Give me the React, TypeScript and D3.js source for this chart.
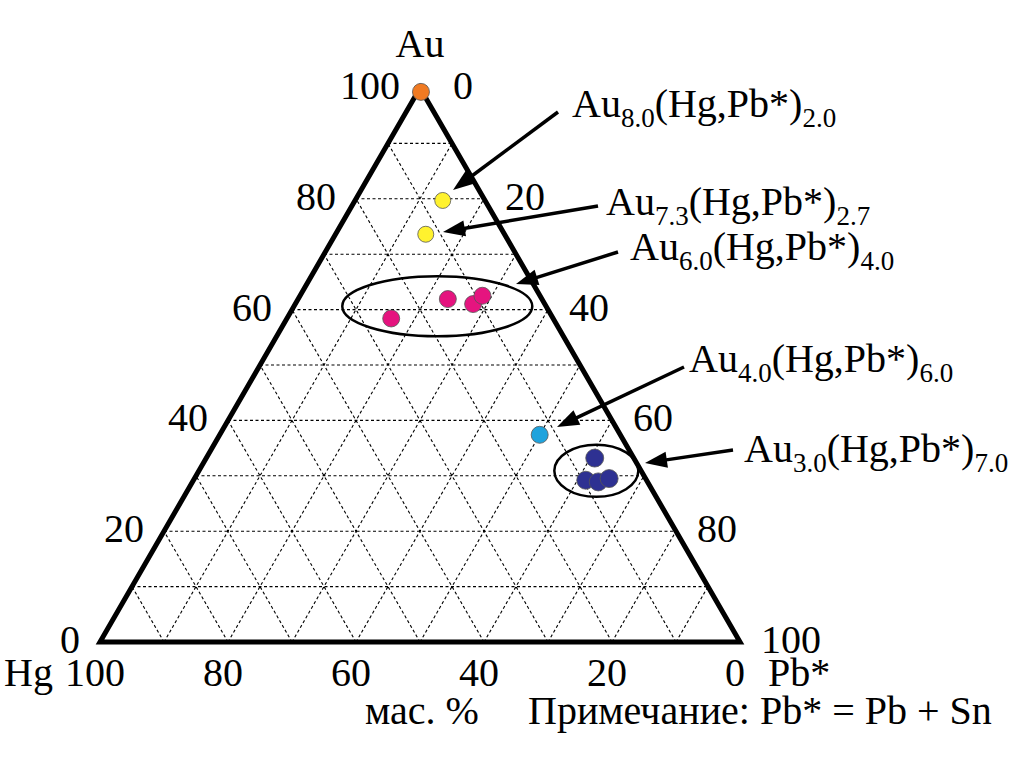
import * as d3 from "d3";

// compositions, mass % (Au, Hg, Pb*)
const orangePts = [[99.3, 0.2, 0.5]];
const yellowPts = [
  [79.7, 6.6, 13.7],
  [73.6, 12.3, 14.1],
];
const pinkPts = [
  [58.4, 25.3, 16.3],
  [61.9, 14.7, 23.4],
  [61.0, 11.2, 27.8],
  [62.5, 9.0, 28.5],
];
const cyanPts = [[37.4, 12.6, 50.0]];
const navyPts = [
  [33.2, 6.1, 60.7],
  [29.2, 9.5, 61.3],
  [28.9, 7.7, 63.4],
  [29.5, 5.7, 64.8],
];

const ticks = [0, 20, 40, 60, 80, 100];
const auSubs = ["8.0", "7.3", "6.0", "4.0", "3.0"];
const hgPbSubs = ["2.0", "2.7", "4.0", "6.0", "7.0"];

// annotation layout (label anchor, arrow start, arrow tip)
const notes = [
  { lx: 572, ly: 117, x1: 558, y1: 112, x2: 453, y2: 190 },
  { lx: 606, ly: 215, x1: 598, y1: 206, x2: 443, y2: 232 },
  { lx: 630, ly: 260, x1: 618, y1: 252, x2: 516, y2: 284 },
  { lx: 689, ly: 372, x1: 684, y1: 367, x2: 557, y2: 427 },
  { lx: 744, ly: 462, x1: 733, y1: 450, x2: 645, y2: 463 },
];

const W = 1010;
const H = 760;
const FONT = "'Liberation Serif', 'Times New Roman', serif";

const xs = d3.scaleLinear().domain([0, 100]).range([100, 740]);
const ys = d3.scaleLinear().domain([0, 100]).range([642, 88]);

// ternary -> pixel (Au top, Hg bottom-left, Pb* bottom-right)
const px = (au: number, pb: number): [number, number] => [xs(pb + au / 2), ys(au)];

const groups = [
  { pts: orangePts, fill: "#f07a22", r: 8.5 },
  { pts: yellowPts, fill: "#fff22e", r: 8 },
  { pts: pinkPts, fill: "#e5147f", r: 8.5 },
  { pts: cyanPts, fill: "#1fa3dd", r: 8.5 },
  { pts: navyPts, fill: "#2e3192", r: 9 },
];

const ellipses = [
  { au: 60.6, pb: 22.4, rx: 95, ry: 30 },
  { au: 30.9, pb: 62.1, rx: 42, ry: 26 },
];

export default function App() {
  const grid: string[] = [];
  for (let v = 10; v < 100; v += 10) {
    const a1 = px(v, 0), a2 = px(v, 100 - v); // constant Au
    const b1 = px(0, v), b2 = px(100 - v, v); // constant Pb*
    const c1 = px(0, 100 - v), c2 = px(100 - v, 0); // constant Hg
    grid.push(`M${a1}L${a2}`, `M${b1}L${b2}`, `M${c1}L${c2}`);
  }
  const A = px(100, 0), L = px(0, 0), R = px(0, 100);
  const tri = d3.line()([A, L, R]) + "Z";

  const arrow = (n: typeof notes[0]) => {
    const ang = Math.atan2(n.y2 - n.y1, n.x2 - n.x1);
    const len = 22, hw = 8;
    const bx = n.x2 - len * Math.cos(ang), by = n.y2 - len * Math.sin(ang);
    const nx = -Math.sin(ang) * hw, ny = Math.cos(ang) * hw;
    return {
      line: `M${n.x1},${n.y1}L${bx + 4 * Math.cos(ang)},${by + 4 * Math.sin(ang)}`,
      head: `M${n.x2},${n.y2}L${bx + nx},${by + ny}L${bx - nx},${by - ny}Z`,
    };
  };

  return (
    <svg width={W} height={H} style={{ position: "absolute", left: 0, top: 0, background: "#fff" }} fontFamily={FONT}>
      <path d={grid.join("")} stroke="#000" strokeWidth={1.1} strokeDasharray="3,2.5" fill="none" />
      <path d={tri} stroke="#000" strokeWidth={5} fill="none" strokeLinejoin="miter" />

      {ellipses.map((e, i) => {
        const [cx, cy] = px(e.au, e.pb);
        return <ellipse key={i} cx={cx} cy={cy} rx={e.rx} ry={e.ry} fill="none" stroke="#000" strokeWidth={2.5} />;
      })}

      {groups.map((g, gi) =>
        g.pts.map((p, i) => {
          const [cx, cy] = px(p[0], p[2]);
          return <circle key={`${gi}-${i}`} cx={cx} cy={cy} r={g.r} fill={g.fill} stroke="#555" strokeWidth={0.8} />;
        })
      )}

      {/* left axis: Au */}
      {ticks.map((t) => {
        const [x, y] = px(t, 0);
        return (
          <text key={`l${t}`} x={x - 20} y={y + 11} fontSize={40} textAnchor="end">{t}</text>
        );
      })}
      {/* right axis: Pb* */}
      {ticks.map((t) => {
        const [x, y] = px(100 - t, t);
        return (
          <text key={`r${t}`} x={x + (t === 0 ? 33 : 21)} y={y + 11} fontSize={40}>{t}</text>
        );
      })}
      {/* bottom axis: Hg */}
      {ticks.map((t) => {
        const [x] = px(0, 100 - t);
        return (
          <text key={`b${t}`} x={x - 5} y={686} fontSize={40} textAnchor="middle">{t}</text>
        );
      })}
      <text x={420} y={57} fontSize={40} textAnchor="middle">Au</text>
      <text x={4} y={686} fontSize={40}>Hg</text>
      <text x={768} y={686} fontSize={40}>Pb*</text>
      <text x={365} y={724} fontSize={40}>мас. %</text>
      <text x={528} y={724} fontSize={40}>Примечание: Pb* = Pb + Sn</text>

      {notes.map((n, i) => {
        const a = arrow(n);
        return (
          <g key={`n${i}`}>
            <path d={a.line} stroke="#000" strokeWidth={3.5} fill="none" />
            <path d={a.head} fill="#000" />
            <text x={n.lx} y={n.ly} fontSize={40}>
              <tspan>Au</tspan>
              <tspan dy={10} fontSize={27}>{auSubs[i]}</tspan>
              <tspan dy={-10}>(Hg,Pb*)</tspan>
              <tspan dy={10} fontSize={27}>{hgPbSubs[i]}</tspan>
            </text>
          </g>
        );
      })}
    </svg>
  );
}
